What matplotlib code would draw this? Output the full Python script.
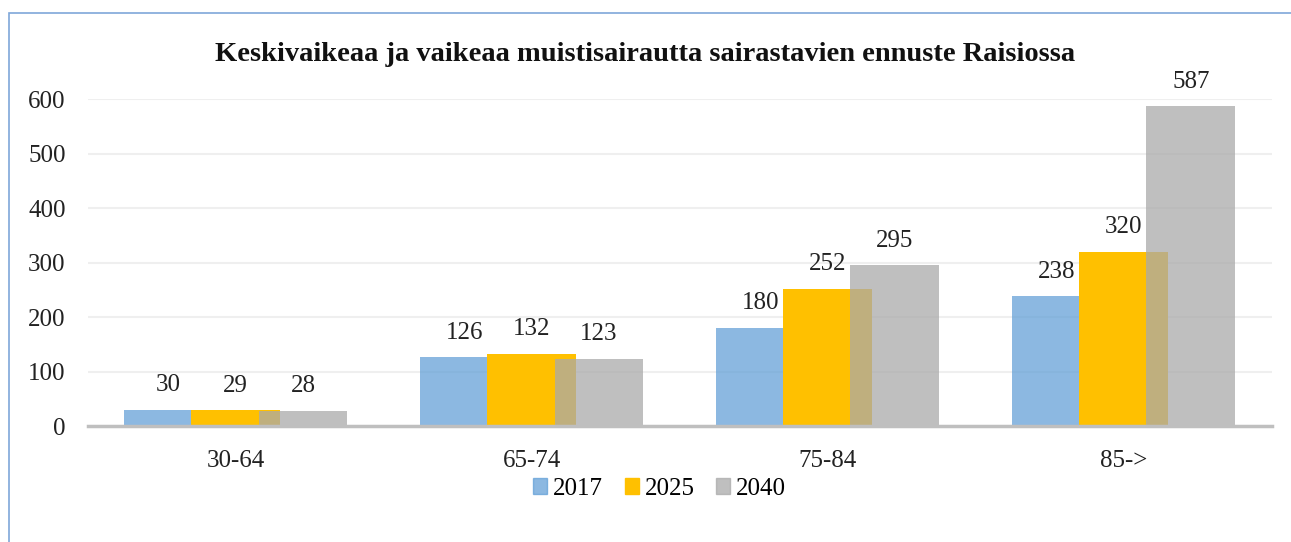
import matplotlib.pyplot as plt
import numpy as np
from matplotlib.patches import Rectangle

# data
groups = ["30-64", "65-74", "75-84", "85->"]
years = ["2017", "2025", "2040"]
v2017 = [30, 126, 180, 238]
v2025 = [29, 132, 252, 320]
v2040 = [28, 123, 295, 587]

plt.rcParams['font.family'] = ['Liberation Serif', 'DejaVu Serif']

fig = plt.figure(figsize=(12.91, 5.42), dpi=100)
ax = fig.add_axes([0.068, 0.214, 0.917, 0.603])

x = np.arange(len(groups))
width = 0.30
step = 0.227
colors = [(91/255, 155/255, 213/255, 0.7), (1.0, 192/255, 0, 1.0), (170/255, 170/255, 170/255, 0.75)]

for i, (vals, lab) in enumerate(zip([v2017, v2025, v2040], years)):
    pos = x + (i - 1) * step
    ax.bar(pos, vals, width, color=colors[i], label=lab, zorder=2 + i)
    for p, v in zip(pos, vals):
        ax.text(p, v + 25, str(v), ha='center', va='bottom', fontsize=18, color='#222222')

ax.set_xlim(-0.5, 3.5)
ax.set_ylim(0, 600)
ax.set_yticks(range(0, 601, 100))
ax.set_xticks(x)
ax.set_xticklabels(groups)
ax.tick_params(axis='both', length=0, labelsize=18, colors='#222222')
ax.tick_params(axis='y', pad=16)
ax.tick_params(axis='x', pad=17)
ax.grid(axis='y', color='#EFEFEF', linewidth=1.5, zorder=0)
ax.set_axisbelow(True)
for s in ['top', 'right', 'left']:
    ax.spines[s].set_visible(False)
ax.spines['bottom'].set_color('#BFBFBF')
ax.spines['bottom'].set_linewidth(2.5)
ax.spines['bottom'].set_zorder(6)

fig.text(0.5, 0.9, "Keskivaikeaa ja vaikeaa muistisairautta sairastavien ennuste Raisiossa",
         ha='center', va='center', fontsize=20.5, fontweight='bold', color='#111111')

handles = [Rectangle((0, 0), 1, 1, color=c) for c in colors]
fig.legend(handles, years, loc='center', bbox_to_anchor=(0.511, 0.098), ncol=3, frameon=False,
           fontsize=18, handlelength=0.56, handleheight=0.56, handletextpad=0.25, columnspacing=0.85)

# outer chart frame (left and top edges visible)
fig.add_artist(Rectangle((9 / 1291, -0.1), 1.2, 1 - 13 / 542 + 0.1, transform=fig.transFigure,
                         fill=False, edgecolor='#7FA7D9', linewidth=1.2))

fig.savefig("out.png", dpi=100)
